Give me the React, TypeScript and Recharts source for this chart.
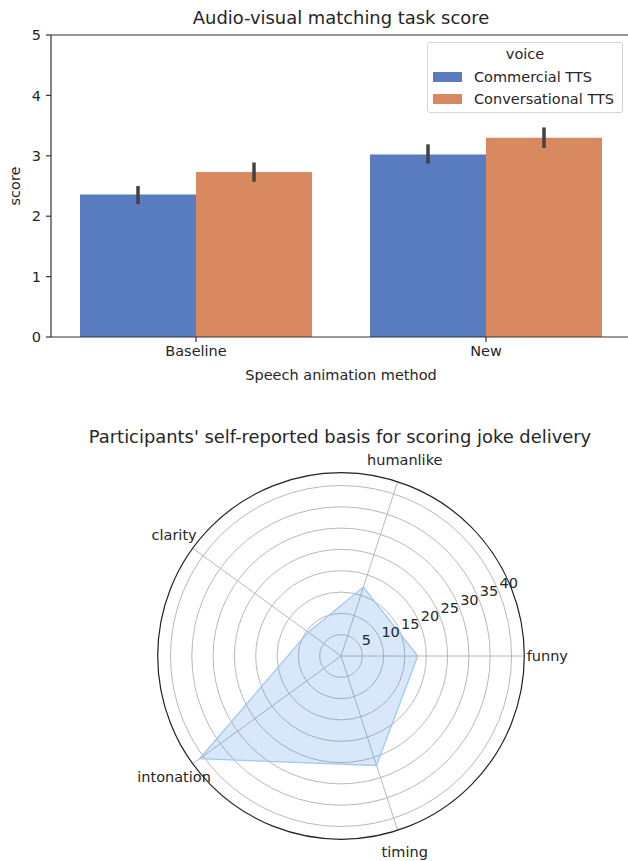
import {
  BarChart,
  Bar,
  XAxis,
  YAxis,
  ErrorBar,
  ReferenceLine,
  RadarChart,
  Radar,
  PolarGrid,
  PolarAngleAxis,
  PolarRadiusAxis,
} from 'recharts';

// Matching task: mean score per animation method, with 95% CI bounds
const methods = ['Baseline', 'New'];
const commercialScore = [2.36, 3.02];
const commercialLow = [2.2, 2.87];
const commercialHigh = [2.5, 3.19];
const conversationalScore = [2.73, 3.3];
const conversationalLow = [2.57, 3.13];
const conversationalHigh = [2.89, 3.47];
const scoreTicks = [0, 1, 2, 3, 4, 5];

// Self-reported basis for scoring joke delivery
const aspects = ['funny', 'humanlike', 'clarity', 'intonation', 'timing'];
const aspectCounts = [18, 17, 9.5, 41, 27];
const ringTicks = [5, 10, 15, 20, 25, 30, 35, 40];

const BLUE = '#597cc0';
const ORANGE = '#d8895f';
const TEXT = '#262626';
const FONT = '"DejaVu Sans", sans-serif';
const FS = 14.5;
const TITLE_FS = 17.9;

// polar layout (relative to the radar chart box)
const CX = 341;
const CY = 256;
const OUTER_R = 183.3;

const barData = methods.map((method, i) => ({
  method,
  commercial: commercialScore[i],
  commercialErr: [commercialScore[i] - commercialLow[i], commercialHigh[i] - commercialScore[i]],
  conversational: conversationalScore[i],
  conversationalErr: [
    conversationalScore[i] - conversationalLow[i],
    conversationalHigh[i] - conversationalScore[i],
  ],
}));

const radarData = aspects.map((aspect, i) => ({ aspect, count: aspectCounts[i] }));

// labels go counter-clockwise from east, one step per category
const AspectTick = (props: any) => {
  const { payload, index } = props;
  const rad = ((index * 360) / aspects.length) * (Math.PI / 180);
  const r = OUTER_R + 23;
  return (
    <text
      x={CX + r * Math.cos(rad)}
      y={CY - r * Math.sin(rad)}
      textAnchor="middle"
      dominantBaseline="central"
      fontSize={FS}
      fontFamily={FONT}
      fill={TEXT}
    >
      {payload.value}
    </text>
  );
};

const RingTick = (props: any) => {
  const { x, y, payload } = props;
  return (
    <text x={x + 1} y={y - 2.5} textAnchor="start" fontSize={FS} fontFamily={FONT} fill={TEXT}>
      {String(payload.value)}
    </text>
  );
};

const VoiceLegend = () => (
  <div
    style={{
      position: 'absolute',
      left: 427,
      top: 42,
      width: 194,
      height: 69,
      border: '1px solid #d4d4d4',
      borderRadius: 3,
      background: 'rgba(255,255,255,0.85)',
      fontSize: FS,
      color: TEXT,
    }}
  >
    <div style={{ position: 'absolute', top: 3, width: '100%', textAlign: 'center' }}>voice</div>
    {[
      { label: 'Commercial TTS', color: BLUE, top: 25 },
      { label: 'Conversational TTS', color: ORANGE, top: 47 },
    ].map((item) => (
      <div key={item.label} style={{ position: 'absolute', top: item.top, left: 5, display: 'flex', alignItems: 'center' }}>
        <span style={{ display: 'inline-block', width: 29, height: 10, background: item.color, marginRight: 12 }} />
        <span style={{ lineHeight: '18px' }}>{item.label}</span>
      </div>
    ))}
  </div>
);

export default function App() {
  return (
    <div
      style={{
        position: 'absolute',
        left: 0,
        top: 0,
        width: 628,
        height: 861,
        overflow: 'hidden',
        background: '#fff',
        fontFamily: FONT,
        color: TEXT,
      }}
    >
      <div style={{ position: 'absolute', left: 0, top: 0 }}>
        <BarChart
          width={632}
          height={400}
          data={barData}
          margin={{ top: 35, right: 1, bottom: 0, left: 0 }}
          barCategoryGap="10%"
          barGap={0}
        >
          <XAxis
            dataKey="method"
            height={63}
            tickSize={5}
            tickMargin={4}
            stroke="#333"
            strokeWidth={1.2}
            tick={{ fill: TEXT, fontSize: FS, fontFamily: FONT }}
            label={{
              value: 'Speech animation method',
              position: 'insideBottom',
              offset: 20,
              fill: TEXT,
              fontSize: FS,
              fontFamily: FONT,
            }}
          />
          <YAxis
            width={51}
            domain={[0, 5]}
            ticks={scoreTicks}
            interval={0}
            tickSize={5}
            tickMargin={5}
            stroke="#333"
            strokeWidth={1.2}
            tick={{ fill: TEXT, fontSize: FS, fontFamily: FONT }}
            label={{
              value: 'score',
              angle: -90,
              position: 'insideLeft',
              offset: 15,
              fill: TEXT,
              fontSize: FS,
              fontFamily: FONT,
              style: { textAnchor: 'middle' },
            }}
          />
          <ReferenceLine y={5} stroke="#333" strokeWidth={1.2} />
          <Bar dataKey="commercial" name="Commercial TTS" fill={BLUE} isAnimationActive={false}>
            <ErrorBar dataKey="commercialErr" width={0} stroke="#424242" strokeWidth={3.5} direction="y" />
          </Bar>
          <Bar dataKey="conversational" name="Conversational TTS" fill={ORANGE} isAnimationActive={false}>
            <ErrorBar dataKey="conversationalErr" width={0} stroke="#424242" strokeWidth={3.5} direction="y" />
          </Bar>
        </BarChart>
      </div>
      <div
        style={{
          position: 'absolute',
          left: 0,
          top: 7,
          width: 682,
          textAlign: 'center',
          fontSize: TITLE_FS,
          lineHeight: '22px',
        }}
      >
        Audio-visual matching task score
      </div>
      <VoiceLegend />

      <div
        style={{
          position: 'absolute',
          left: 0,
          top: 426,
          width: 680,
          textAlign: 'center',
          fontSize: TITLE_FS,
          lineHeight: '22px',
        }}
      >
        Participants' self-reported basis for scoring joke delivery
      </div>
      <div style={{ position: 'absolute', left: 0, top: 400 }}>
        <RadarChart
          width={628}
          height={461}
          data={radarData}
          cx={CX}
          cy={CY}
          outerRadius={OUTER_R}
          startAngle={-72}
          endAngle={288}
          margin={{ top: 0, right: 0, bottom: 0, left: 0 }}
        >
          <PolarGrid gridType="circle" stroke="#b8b8b8" strokeWidth={1} />
          <PolarAngleAxis
            dataKey="aspect"
            axisLineType="circle"
            axisLine={{ stroke: '#222', strokeWidth: 1.2 }}
            tickLine={false}
            tick={AspectTick}
          />
          <PolarRadiusAxis
            angle={22.5}
            type="number"
            domain={[0, 42.6]}
            ticks={ringTicks as any}
            axisLine={false}
            tickLine={false}
            tick={RingTick}
          />
          <Radar
            dataKey="count"
            fill="#3d85e0"
            fillOpacity={0.2}
            stroke="#a3c8f0"
            strokeWidth={1.3}
            isAnimationActive={false}
          />
        </RadarChart>
      </div>
    </div>
  );
}
